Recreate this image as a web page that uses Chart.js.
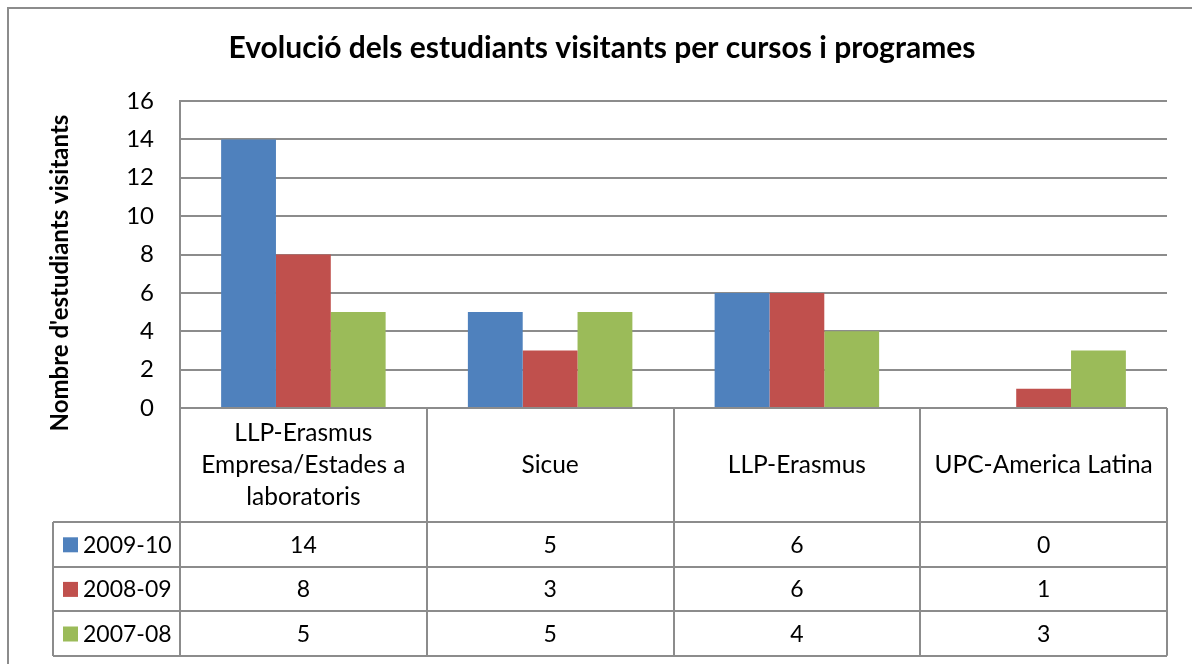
<!DOCTYPE html>
<html>
<head>
<meta charset="utf-8">
<script src="https://cdn.jsdelivr.net/npm/chart.js@4"></script>
<style>
  html, body { margin: 0; padding: 0; background: #ffffff; }
  #wrap { width: 1192px; height: 664px; }
</style>
</head>
<body>
<div id="wrap"><canvas id="c" width="1192" height="664"></canvas></div>
<script>
// ---- data ----
const chartTitle = "Evolució dels estudiants visitants per cursos i programes";
const yAxisTitle = "Nombre d'estudiants visitants";
const categories = [
  ["LLP-Erasmus", "Empresa/Estades a", "laboratoris"],
  ["Sicue"],
  ["LLP-Erasmus"],
  ["UPC-America Latina"]
];
const seriesNames = ["2009-10", "2008-09", "2007-08"];
const values2009_10 = [14, 5, 6, 0];
const values2008_09 = [8, 3, 6, 1];
const values2007_08 = [5, 5, 4, 3];
const yMin = 0, yMax = 16, yStep = 2;

const colors = ["#4F81BD", "#C0504D", "#9BBB59"];
const seriesValues = [values2009_10, values2008_09, values2007_08];
const lineColor = "#8C8C8C";
const FONT = "Lato, 'Open Sans', sans-serif";

const frame = {
  id: 'frame',
  beforeDraw(chart) {
    const ctx = chart.ctx;
    ctx.save();
    ctx.fillStyle = '#ffffff';
    ctx.fillRect(0, 0, chart.width, chart.height);
    ctx.strokeStyle = lineColor;
    ctx.lineWidth = 2;
    ctx.strokeRect(8, 8, chart.width + 20, chart.height + 20);
    ctx.fillStyle = '#000';
    ctx.font = "bold 30px " + FONT;
    ctx.textAlign = 'center';
    ctx.textBaseline = 'middle';
    ctx.fillText(chartTitle, 602, 48);
    ctx.translate(60, 273);
    ctx.rotate(-Math.PI / 2);
    ctx.font = "bold 24px " + FONT;
    ctx.fillText(yAxisTitle, 0, 0);
    ctx.restore();
  },
  afterDraw(chart) {
    const ctx = chart.ctx;
    const xs = chart.scales.x;
    const area = chart.chartArea;
    const n = categories.length;
    const catW = (xs.right - xs.left) / n;
    const top = area.bottom;
    const headerH = 114;
    const rowH = 44.6;
    const tableLeft = 53;
    const rows = seriesNames.length;
    const bottom = top + headerH + rowH * rows;
    ctx.save();
    ctx.strokeStyle = lineColor;
    ctx.lineWidth = 2;
    ctx.beginPath();
    for (let i = 0; i <= n; i++) {
      const x = Math.round(xs.left + catW * i);
      ctx.moveTo(x, top);
      ctx.lineTo(x, bottom);
    }
    for (let r = 0; r <= rows; r++) {
      const y = Math.round(top + headerH + rowH * r);
      ctx.moveTo(tableLeft, y);
      ctx.lineTo(xs.right, y);
    }
    ctx.moveTo(tableLeft, Math.round(top + headerH));
    ctx.lineTo(tableLeft, Math.round(bottom));
    ctx.stroke();

    ctx.fillStyle = '#000';
    ctx.textAlign = 'center';
    ctx.textBaseline = 'middle';
    ctx.font = "24.5px " + FONT;
    const lh = 32;
    categories.forEach((lines, i) => {
      const cx = xs.getPixelForValue(i);
      const cy = top + headerH / 2;
      lines.forEach((t, k) => {
        ctx.fillText(t, cx, cy + (k - (lines.length - 1) / 2) * lh);
      });
    });
    seriesNames.forEach((name, r) => {
      const cy = top + headerH + rowH * r + rowH / 2;
      ctx.fillStyle = colors[r];
      ctx.fillRect(63, cy - 7, 15, 15);
      ctx.fillStyle = '#000';
      ctx.textAlign = 'left';
      ctx.font = "23px " + FONT;
      ctx.fillText(name, 83, cy + 1);
      ctx.textAlign = 'center';
      seriesValues[r].forEach((v, i) => {
        ctx.fillText(String(v), xs.getPixelForValue(i), cy + 1);
      });
    });
    ctx.restore();
  }
};

new Chart(document.getElementById('c'), {
  type: 'bar',
  data: {
    labels: categories,
    datasets: seriesNames.map((name, i) => ({
      label: name,
      data: seriesValues[i],
      backgroundColor: colors[i],
      borderWidth: 0,
      categoryPercentage: 3 / 4.5,
      barPercentage: 1.0
    }))
  },
  options: {
    responsive: false,
    animation: false,
    layout: { padding: { top: 101, right: 25, bottom: 256, left: 0 } },
    plugins: { legend: { display: false }, title: { display: false }, tooltip: { enabled: false } },
    scales: {
      x: { display: false },
      y: {
        min: yMin, max: yMax,
        ticks: { stepSize: yStep, color: '#000', font: { family: FONT, size: 24 }, padding: 26 },
        grid: { color: lineColor, lineWidth: 2, drawTicks: false },
        border: { display: true, color: lineColor, width: 2 },
        afterFit(scale) { scale.width = 180; }
      }
    }
  },
  plugins: [frame]
});
</script>
</body>
</html>
